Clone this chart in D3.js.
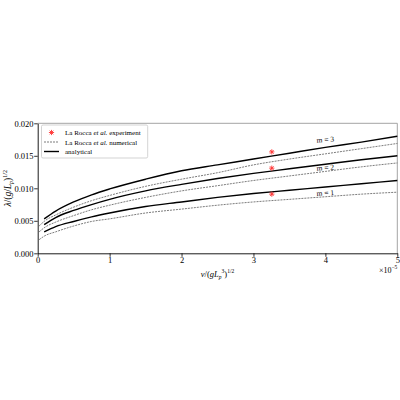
<!DOCTYPE html>
<html>
<head>
<meta charset="utf-8">
<script src="https://cdn.jsdelivr.net/npm/d3@7"></script>
<style>
  body { margin: 0; background: #fff; }
  text { font-family: "Liberation Serif", "DejaVu Serif", serif; }
</style>
</head>
<body>
<script>
// nu / (g Lp^3)^(1/2), in units of 1e-5
const xAnalytical = [0.09, 0.25, 0.5, 0.75, 1, 1.5, 2, 2.5, 3, 3.5, 4, 4.5, 5];
const analyticalM1 = [0.0033, 0.0041, 0.0049, 0.0056, 0.0062, 0.0072, 0.0079, 0.0086, 0.0092, 0.0097, 0.0102, 0.0107, 0.0112];
const analyticalM2 = [0.0044, 0.0055, 0.0066, 0.0075, 0.0083, 0.0096, 0.0106, 0.0115, 0.0123, 0.0130, 0.0137, 0.0144, 0.0150];
const analyticalM3 = [0.0053, 0.0065, 0.0079, 0.0090, 0.0099, 0.0114, 0.0127, 0.0136, 0.0145, 0.0154, 0.0163, 0.0171, 0.0180];

const xNumerical = [0.02, 0.1, 0.25, 0.5, 0.75, 1, 1.5, 2, 2.5, 3, 3.5, 4, 4.5, 5];
const numericalM1 = [0.0021, 0.0027, 0.0033, 0.0042, 0.0049, 0.0053, 0.0062, 0.0068, 0.0074, 0.0079, 0.0083, 0.0087, 0.0091, 0.0094];
const numericalM2 = [0.0033, 0.0040, 0.0048, 0.0058, 0.0067, 0.0074, 0.0086, 0.0096, 0.0104, 0.0112, 0.0119, 0.0126, 0.0133, 0.0139];
const numericalM3 = [0.0042, 0.0050, 0.0059, 0.0071, 0.0081, 0.0089, 0.0103, 0.0114, 0.0124, 0.0136, 0.0145, 0.0153, 0.0161, 0.0169];

const xExperiment = [3.255, 3.255, 3.255];
const yExperiment = [0.0091, 0.0131, 0.0156];

const modeLabels = ["m = 1", "m = 2", "m = 3"];
const modeLabelX = [3.88, 3.88, 3.88];
const modeLabelY = [0.0088, 0.0127, 0.0170];

const xTicks = [0, 1, 2, 3, 4, 5];
const yTicks = [0, 0.005, 0.010, 0.015, 0.020];

const W = 400, H = 400;
const margin = {left: 37.7, right: 2.7, top: 123.3, bottom: 146.7};

const svg = d3.select("body").append("svg")
    .attr("width", W)
    .attr("height", H)
    .style("background", "#fff");

const x = d3.scaleLinear().domain([0, 5]).range([margin.left, W - margin.right]);
const y = d3.scaleLinear().domain([0, 0.020]).range([H - margin.bottom, margin.top]);

// frame: top/right lighter
svg.append("line")
    .attr("x1", x(0)).attr("x2", x(5))
    .attr("y1", y(0.020)).attr("y2", y(0.020))
    .attr("stroke", "#9a9a9a").attr("stroke-width", 0.9);
svg.append("line")
    .attr("x1", x(5)).attr("x2", x(5))
    .attr("y1", y(0)).attr("y2", y(0.020))
    .attr("stroke", "#9a9a9a").attr("stroke-width", 0.9);

const line = d3.line()
    .x(d => x(d[0]))
    .y(d => y(d[1]))
    .curve(d3.curveMonotoneX);

const numerical = [numericalM1, numericalM2, numericalM3];
const analytical = [analyticalM1, analyticalM2, analyticalM3];

svg.append("g")
    .selectAll("path")
    .data(numerical)
    .join("path")
    .attr("d", s => line(xNumerical.map((v, i) => [v, s[i]])))
    .attr("fill", "none")
    .attr("stroke", "#444")
    .attr("stroke-width", 0.7)
    .attr("stroke-dasharray", "2,1");

svg.append("g")
    .selectAll("path")
    .data(analytical)
    .join("path")
    .attr("d", s => line(xAnalytical.map((v, i) => [v, s[i]])))
    .attr("fill", "none")
    .attr("stroke", "#000")
    .attr("stroke-width", 1.4);

// asterisk marker
function star(r) {
    const d = r * Math.SQRT1_2;
    return `M${-r},0L${r},0M0,${-r}L0,${r}M${-d},${-d}L${d},${d}M${-d},${d}L${d},${-d}`;
}

svg.append("g")
    .selectAll("path")
    .data(yExperiment)
    .join("path")
    .attr("transform", (d, i) => `translate(${x(xExperiment[i])},${y(d)})`)
    .attr("d", star(2.6))
    .attr("stroke", "#ff3333")
    .attr("stroke-width", 0.9)
    .attr("fill", "none");

svg.append("g")
    .selectAll("text")
    .data(modeLabels)
    .join("text")
    .attr("transform", (d, i) => `translate(${x(modeLabelX[i])},${y(modeLabelY[i])}) rotate(-4)`)
    .attr("font-size", 7.5)
    .text(d => d);

// axes
const xAxis = svg.append("g")
    .attr("transform", `translate(0,${y(0)})`)
    .call(d3.axisBottom(x).tickValues(xTicks).tickFormat(d3.format("d")).tickSize(3.5).tickSizeOuter(0));
const yAxis = svg.append("g")
    .attr("transform", `translate(${x(0)},0)`)
    .call(d3.axisLeft(y).tickValues(yTicks).tickFormat(d3.format(".3f")).tickSize(3.5).tickSizeOuter(0));

[xAxis, yAxis].forEach(a => {
    a.select(".domain").attr("stroke", "#000").attr("stroke-width", 0.9);
    a.selectAll(".tick line").attr("stroke", "#000").attr("stroke-width", 0.8);
    a.selectAll(".tick text")
        .attr("font-family", "Liberation Serif, DejaVu Serif, serif")
        .attr("font-size", 8.5)
        .attr("fill", "#000");
});
xAxis.selectAll(".tick text").attr("dy", "0.72em").attr("y", 3.5);
yAxis.selectAll(".tick text").attr("x", -4.2);

// offset text
const off = svg.append("text")
    .attr("x", x(5))
    .attr("y", y(0) + 19.5)
    .attr("text-anchor", "end")
    .attr("font-size", 8);
off.append("tspan").text("×10");
off.append("tspan").attr("font-size", 5.5).attr("dy", -3.5).text("−5");

// x label
const xl = svg.append("text")
    .attr("x", (x(0) + x(5)) / 2)
    .attr("y", y(0) + 23.5)
    .attr("text-anchor", "middle")
    .attr("font-size", 8.5);
xl.append("tspan").attr("font-style", "italic").text("ν");
xl.append("tspan").text("/(");
xl.append("tspan").attr("font-style", "italic").text("gL");
xl.append("tspan").attr("font-size", 5.5).attr("font-style", "italic").attr("dy", 2).text("p");
xl.append("tspan").attr("font-size", 5.5).attr("dy", -5.5).text("3");
xl.append("tspan").attr("dy", 3.5).text(")");
xl.append("tspan").attr("font-size", 5.5).attr("dy", -3.5).text("1/2");

// y label
const yl = svg.append("text")
    .attr("transform", `translate(10.5,${(y(0) + y(0.020)) / 2}) rotate(-90)`)
    .attr("text-anchor", "middle")
    .attr("font-size", 9.5);
yl.append("tspan").attr("font-style", "italic").text("λ");
yl.append("tspan").text("/(");
yl.append("tspan").attr("font-style", "italic").text("g");
yl.append("tspan").text("/");
yl.append("tspan").attr("font-style", "italic").text("L");
yl.append("tspan").attr("font-size", 6).attr("font-style", "italic").attr("dy", 2).text("p");
yl.append("tspan").attr("dy", -2).text(")");
yl.append("tspan").attr("font-size", 6).attr("dy", -4).text("1/2");

// legend
const legend = svg.append("g");
legend.append("rect")
    .attr("x", 41.5).attr("y", 125)
    .attr("width", 106.2).attr("height", 33)
    .attr("rx", 1.5)
    .attr("fill", "#fff")
    .attr("stroke", "#c8c8c8")
    .attr("stroke-width", 0.8);

const legendRows = [
    {kind: "marker", parts: [["La Rocca ", false], ["et al.", true], [" experiment", false]]},
    {kind: "dashed", parts: [["La Rocca ", false], ["et al.", true], [" numerical", false]]},
    {kind: "solid", parts: [["analytical", false]]}
];
const rowY = [132.5, 142, 151.5];

legendRows.forEach((r, i) => {
    const cy = rowY[i];
    if (r.kind === "marker") {
        legend.append("path")
            .attr("transform", `translate(51.5,${cy})`)
            .attr("d", star(2.6))
            .attr("stroke", "#ff3333").attr("stroke-width", 0.9).attr("fill", "none");
    } else {
        legend.append("line")
            .attr("x1", 44).attr("x2", 59).attr("y1", cy).attr("y2", cy)
            .attr("stroke", r.kind === "solid" ? "#000" : "#444")
            .attr("stroke-width", r.kind === "solid" ? 1.4 : 0.7)
            .attr("stroke-dasharray", r.kind === "solid" ? null : "2,1");
    }
    const t = legend.append("text")
        .attr("x", 65).attr("y", cy + 2.5)
        .attr("font-size", 7);
    r.parts.forEach(p => t.append("tspan").attr("font-style", p[1] ? "italic" : null).text(p[0]));
});
</script>
</body>
</html>
